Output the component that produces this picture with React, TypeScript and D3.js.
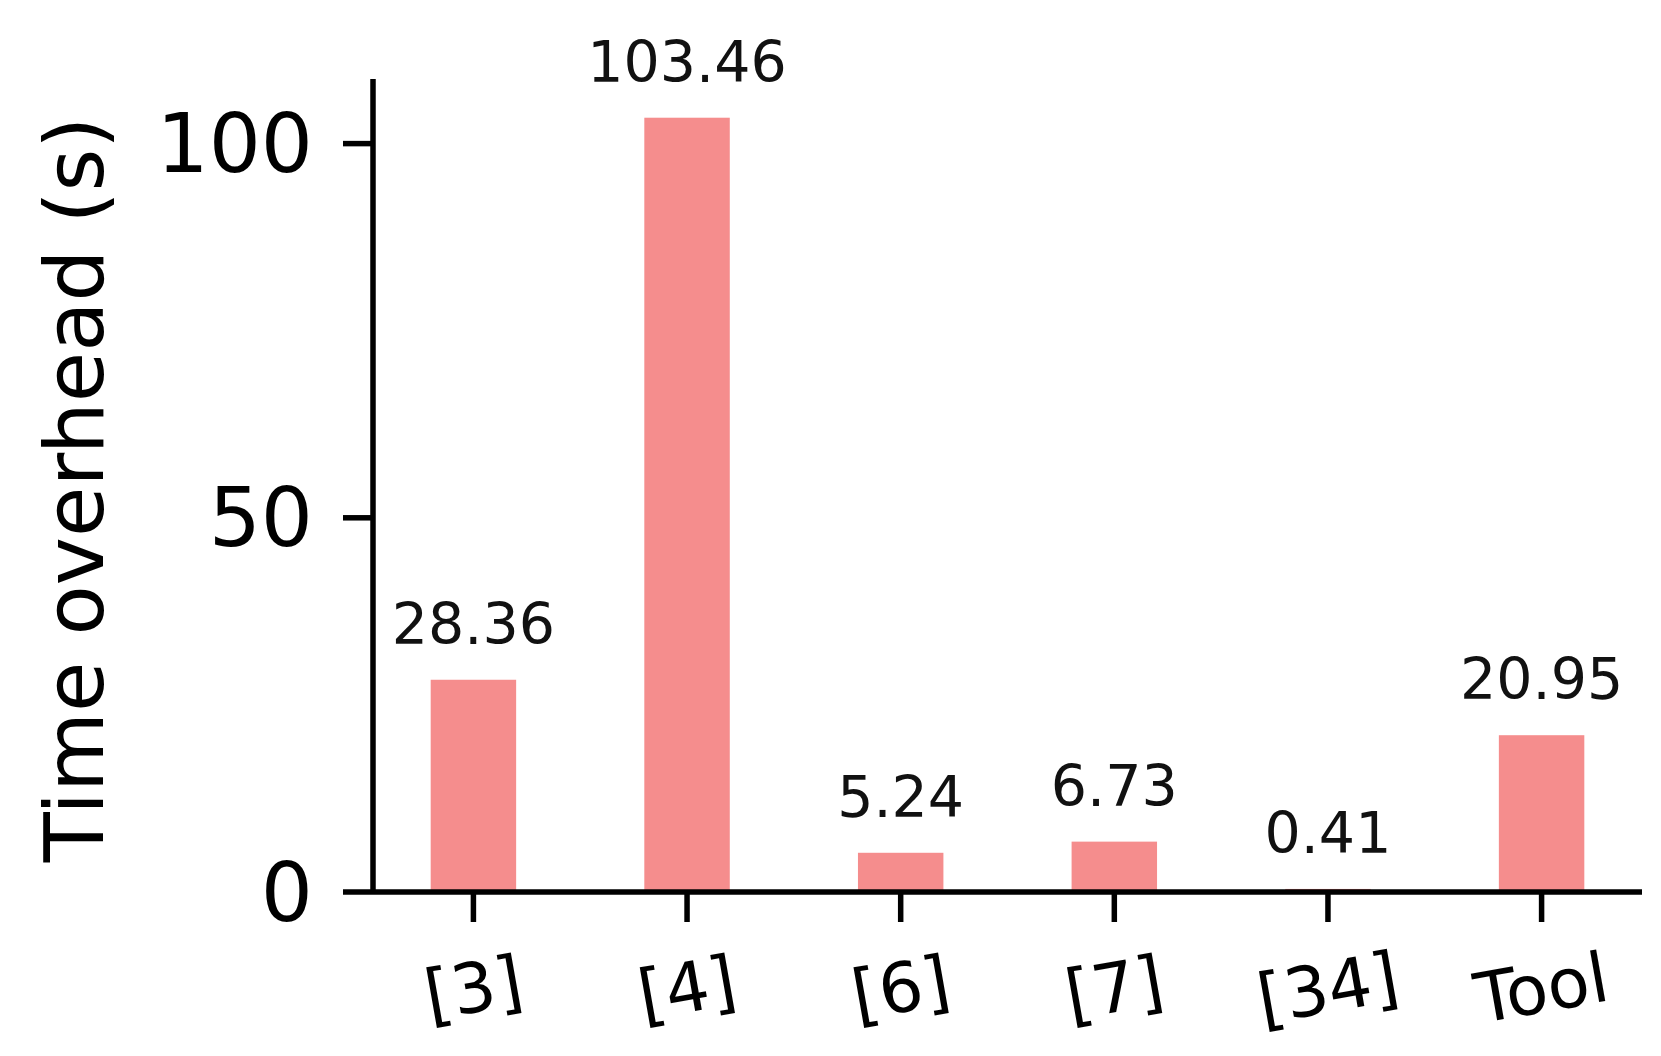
import * as d3 from "d3";

const WIDTH = 1661;
const HEIGHT = 1056;
const MARGIN = { top: 79, right: 19, bottom: 164, left: 373 };

const categories = ["[3]", "[4]", "[6]", "[7]", "[34]", "Tool"];
const overheads = [28.36, 103.46, 5.24, 6.73, 0.41, 20.95];
const yTicks = [0, 50, 100];

const BAR_COLOR = "#f58d8d";
const FONT = "'DejaVu Sans', sans-serif";
const LINE_W = 5.5;

export default function App() {
  const boundsWidth = WIDTH - MARGIN.left - MARGIN.right;
  const boundsHeight = HEIGHT - MARGIN.top - MARGIN.bottom;

  const xScale = d3
    .scaleBand()
    .domain(categories)
    .range([0, boundsWidth])
    .paddingInner(0.6)
    .paddingOuter(0.27);

  const yScale = d3
    .scaleLinear()
    .domain([0, d3.max(overheads)! * 1.05])
    .range([boundsHeight, 0]);

  const fmt = d3.format(".2f");

  const bars = categories.map((c, i) => {
    const x = xScale(c) ?? 0;
    const y = yScale(overheads[i]);
    return (
      <g key={c}>
        <rect
          x={x}
          y={y}
          width={xScale.bandwidth()}
          height={boundsHeight - y}
          fill={BAR_COLOR}
        />
        <text
          x={x + xScale.bandwidth() / 2}
          y={y - 36}
          textAnchor="middle"
          fontSize={57}
          fontFamily={FONT}
          fill="#111"
        >
          {fmt(overheads[i])}
        </text>
      </g>
    );
  });

  const xLabels = categories.map((c) => {
    const cx = (xScale(c) ?? 0) + xScale.bandwidth() / 2;
    const cy = boundsHeight + 96;
    return (
      <g key={c}>
        <line
          x1={cx}
          x2={cx}
          y1={boundsHeight}
          y2={boundsHeight + 30}
          stroke="#000"
          strokeWidth={LINE_W}
        />
        <text
          x={cx}
          y={cy}
          textAnchor="middle"
          dominantBaseline="central"
          fontSize={69}
          fontFamily={FONT}
          transform={`rotate(-10 ${cx} ${cy})`}
        >
          {c}
        </text>
      </g>
    );
  });

  const yLabels = yTicks.map((t) => {
    const y = yScale(t);
    return (
      <g key={t}>
        <line x1={-30} x2={0} y1={y} y2={y} stroke="#000" strokeWidth={LINE_W} />
        <text
          x={-60}
          y={y}
          textAnchor="end"
          dominantBaseline="central"
          fontSize={82}
          fontFamily={FONT}
        >
          {t}
        </text>
      </g>
    );
  });

  return (
    <svg
      width={WIDTH}
      height={HEIGHT}
      style={{ position: "absolute", left: 0, top: 0, background: "#fff" }}
    >
      <g transform={`translate(${MARGIN.left},${MARGIN.top})`}>
        {bars}
        <line x1={0} x2={0} y1={0} y2={boundsHeight} stroke="#000" strokeWidth={LINE_W} />
        <line
          x1={0}
          x2={boundsWidth}
          y1={boundsHeight}
          y2={boundsHeight}
          stroke="#000"
          strokeWidth={LINE_W}
        />
        {xLabels}
        {yLabels}
        <text
          transform={`translate(${103 - MARGIN.left},${boundsHeight / 2 + 4}) rotate(-90)`}
          textAnchor="middle"
          fontSize={82}
          fontFamily={FONT}
        >
          Time overhead (s)
        </text>
      </g>
    </svg>
  );
}
